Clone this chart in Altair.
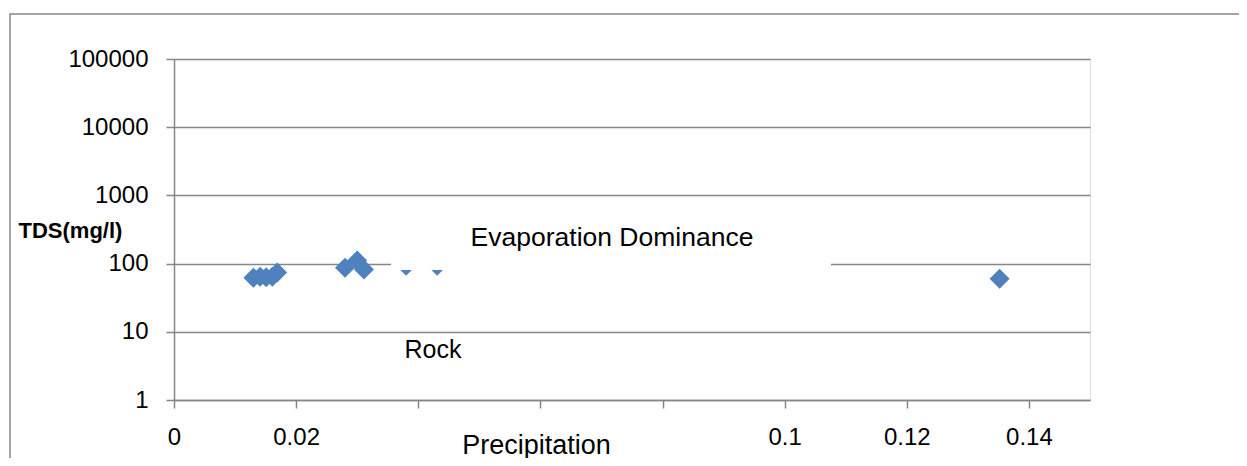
import altair as alt
import pandas as pd

# Data
precip = [0.0130, 0.0141, 0.0151, 0.0161, 0.0169, 0.0280, 0.0300, 0.0311, 0.0380, 0.0431, 0.1352]
tds = [62, 64, 63, 64, 74, 87, 111, 82, 93, 93, 60]
x_ticks = [0, 0.02, 0.04, 0.06, 0.08, 0.1, 0.12, 0.14]
y_ticks = [1, 10, 100, 1000, 10000, 100000]

FONT = "Liberation Sans"
GRAY = "#868686"
BLUE = "#4F81BD"

df = pd.DataFrame({"Precipitation": precip, "TDS": tds})
one = pd.DataFrame({"k": [0]})

W, H = 916, 341

points = alt.Chart(df).mark_point(
    shape="diamond", filled=True, size=400, color=BLUE, opacity=1
).encode(
    x=alt.X("Precipitation:Q",
            scale=alt.Scale(domain=[0, 0.15], nice=False, zero=False),
            axis=alt.Axis(values=x_ticks, grid=False,
                          labelExpr="(datum.value > 0.03 && datum.value < 0.09) ? '' : format(datum.value, '~g')",
                          title="Precipitation", titleX=362, titleY=45,
                          titleAlign="center", titleBaseline="middle",
                          titleFontSize=27, titleFontWeight="normal", titleFont=FONT,
                          titleColor="black",
                          labelFontSize=24, labelFont=FONT, labelColor="black",
                          labelPadding=17, tickSize=8, tickColor=GRAY, domainColor=GRAY,
                          tickWidth=1.5, domainWidth=1.5, labelFlush=False)),
    y=alt.Y("TDS:Q",
            scale=alt.Scale(type="log", domain=[1, 100000], nice=False),
            axis=alt.Axis(values=y_ticks, format="d", grid=True, gridColor=GRAY, gridWidth=1.5,
                          title="TDS(mg/l)", titleAngle=0, titleX=-156, titleY=171,
                          titleAlign="left", titleBaseline="middle",
                          titleFontSize=22, titleFontWeight="bold", titleFont=FONT,
                          titleColor="black",
                          labelFontSize=24, labelFont=FONT, labelColor="black",
                          labelPadding=18, tickSize=8, tickColor=GRAY, domainColor=GRAY,
                          tickWidth=1.5, domainWidth=1.5)),
)

white_box = alt.Chart(one).mark_rect(color="white", opacity=1).encode(
    x=alt.value(217), x2=alt.value(657), y=alt.value(146), y2=alt.value(211)
)

evap = alt.Chart(one).mark_text(
    text="Evaporation Dominance", font=FONT, fontSize=26.5, color="black",
    align="center", baseline="middle"
).encode(x=alt.value(438), y=alt.value(179))

rock = alt.Chart(one).mark_text(
    text="Rock", font=FONT, fontSize=25, color="black",
    align="center", baseline="middle"
).encode(x=alt.value(259), y=alt.value(291))

border = alt.Chart(one).mark_rect(
    fillOpacity=0, stroke=GRAY, strokeWidth=1.5
).encode(
    x=alt.value(-164), x2=alt.value(1100), y=alt.value(-45), y2=alt.value(430)
)

chart = alt.layer(border, points, white_box, evap, rock).properties(
    width=W, height=H,
    autosize=alt.AutoSizeParams(type="none"),
    padding={"left": 166, "top": 51, "right": 149, "bottom": 58},
).configure_view(stroke=None).configure(background="white")

chart.save("out.html", embed_options={"renderer": "svg", "actions": False})
